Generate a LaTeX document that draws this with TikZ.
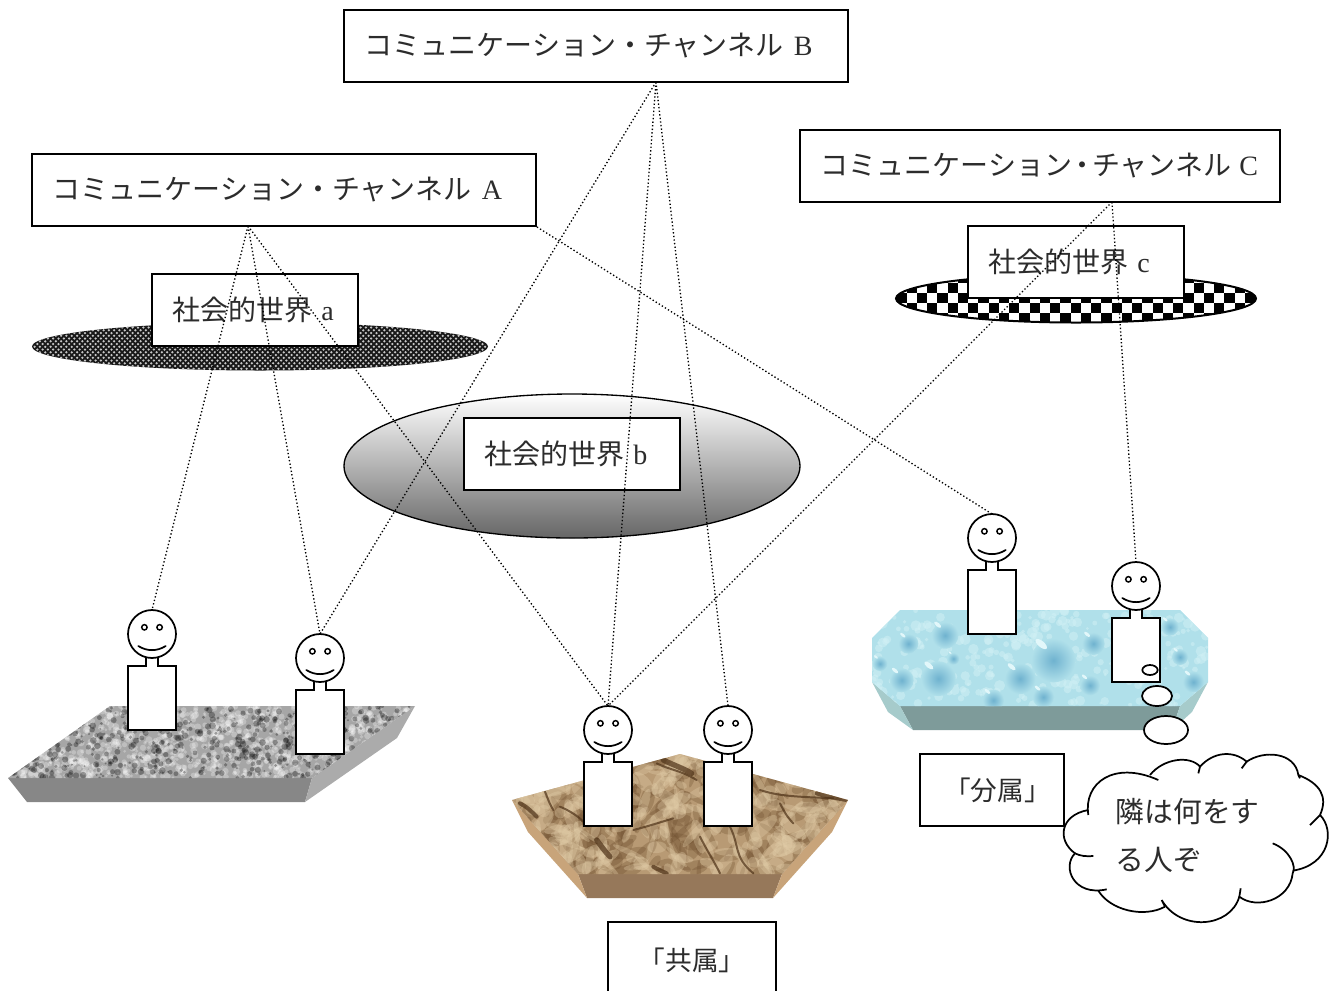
\documentclass[tikz,border=0pt]{standalone}
\usepackage{fontspec}
\usetikzlibrary{shapes.geometric}
\setmainfont{Liberation Serif}
\newfontfamily\cjk{Noto Sans CJK JP}
\pgfmathsetseed{42}
\definecolor{inkgray}{HTML}{2C2C2C}
\definecolor{brownfront}{HTML}{96785A}
\definecolor{brownside}{HTML}{C8A47A}
\definecolor{brownbase}{HTML}{B89A74}
\definecolor{browndark}{HTML}{6E4E2E}
\definecolor{brownlight}{HTML}{E2CDA8}
\definecolor{browncrack}{HTML}{4E3218}
\definecolor{bluefront}{HTML}{7E9B9A}
\definecolor{blueside}{HTML}{A6CBCB}
\definecolor{bluebase}{HTML}{B0E0EA}
\definecolor{bluedark}{HTML}{8FCADD}
\definecolor{bluelight}{HTML}{D2F1F5}
\definecolor{bluedrop}{HTML}{6FB2CF}
\definecolor{blueglint}{HTML}{E2F7FA}
\tikzset{
  lbl/.style={draw=black,line width=1.45pt,fill=white,align=left,inner xsep=16.5pt,inner ysep=0pt,minimum height=54pt,font=\fontsize{21}{25}\selectfont,text=inkgray},
  link/.style={draw=black,line width=1pt,dash pattern=on 1pt off 1.7pt},
  fig/.style={draw=black,line width=1.3pt,fill=white},
  bub/.style={draw=black,line width=1.3pt,fill=white,ellipse}
}
\newcommand{\up}[1]{\raisebox{1.5pt}{#1}}
\newcommand{\chan}{\hspace*{-1pt}\cjk コミュニケーション・チャンネル\rmfamily\hspace{8pt}}
\newcommand{\person}[3]{%
  \begin{scope}[shift={(#2,#3)}]
    \draw[fig] (-24,32) -- (-6,32) -- (-6,22) -- (6,22) -- (6,32) -- (24,32) -- (24,96) -- (-24,96) -- cycle;
    \node[fig,circle,minimum size=36pt,inner sep=0pt,outer sep=0pt] (h#1) at (0,0) {};
    \draw[line width=1.1pt] (-7.6,-6.7) circle (2.7) (7.6,-6.7) circle (2.7);
    \draw[line width=1.3pt,line cap=round] (-13.7,12) .. controls (-5,17.5) and (5,17.5) .. (13.7,12);
  \end{scope}}
\begin{document}
\begin{tikzpicture}[x=0.75pt,y=-0.75pt]
\useasboundingbox (0,0) rectangle (1332,990);

% ---------- grey platform
\fill[black!47] (8,778) -- (312,778) -- (305,802) -- (27,802) -- cycle;
\fill[black!33] (415,706) -- (397,738) -- (305,802) -- (312,778) -- cycle;
\begin{scope}
  \clip (8,778) -- (110,706) -- (415,706) -- (312,778) -- cycle;
  \fill[black!35] (0,700) rectangle (420,780);
  \foreach \i in {1,...,1300}{
    \pgfmathsetmacro\px{8+rnd*407}\pgfmathsetmacro\py{706+rnd*72}
    \pgfmathsetmacro\pr{1.4+rnd*2.2}
    \fill[white,opacity=.28] (\px,\py) circle (\pr);}
  \foreach \i in {1,...,650}{
    \pgfmathsetmacro\px{8+rnd*407}\pgfmathsetmacro\py{706+rnd*72}
    \pgfmathsetmacro\pr{1+rnd*2.4}
    \fill[black,opacity=.3] (\px,\py) circle (\pr);}
\end{scope}

% ---------- brown platform
\fill[brownfront] (578,874) -- (782,874) -- (773,898) -- (587,898) -- cycle;
\fill[brownside] (512,800) -- (528,832) -- (587,898) -- (578,874) -- cycle;
\fill[brownside] (848,800) -- (832,832) -- (773,898) -- (782,874) -- cycle;
\begin{scope}
  \clip (512,800) -- (680,754) -- (848,800) -- (782,874) -- (578,874) -- cycle;
  \fill[brownbase] (505,750) rectangle (855,880);
  \foreach \i in {1,...,260}{
    \pgfmathsetmacro\px{512+rnd*336}\pgfmathsetmacro\py{754+rnd*120}
    \pgfmathsetmacro\pa{rnd*180}\pgfmathsetmacro\pr{6+rnd*14}\pgfmathsetmacro\ps{2+rnd*5}
    \fill[browndark,opacity=.3,rotate around={\pa:(\px,\py)}] (\px,\py) ellipse (\pr*1 and \ps*1);}
  \foreach \i in {1,...,300}{
    \pgfmathsetmacro\px{512+rnd*336}\pgfmathsetmacro\py{754+rnd*120}
    \pgfmathsetmacro\pa{rnd*180}\pgfmathsetmacro\pr{5+rnd*14}\pgfmathsetmacro\ps{2+rnd*5}
    \fill[brownlight,opacity=.35,rotate around={\pa:(\px,\py)}] (\px,\py) ellipse (\pr*1 and \ps*1);}
  \begin{scope}[shift={(500,690)},x=0.25pt,y=-0.25pt,browncrack,line width=1.5pt,line cap=round,opacity=.7]
    \draw (135,305) .. controls (145,330) and (150,345) .. (160,360);
    \draw (180,350) .. controls (215,365) and (235,380) .. (250,395);
    \draw (690,410) .. controls (720,470) and (700,500) .. (760,550);
    \draw (600,440) .. controls (620,480) and (640,510) .. (660,550);
    \draw (470,220) .. controls (510,240) and (540,240) .. (590,270);
    \draw (400,420) .. controls (440,410) and (470,400) .. (520,385);
    \draw (780,300) .. controls (840,320) and (900,320) .. (1000,325);
    \draw (840,340) .. controls (850,360) and (860,380) .. (880,400);
    \draw[line width=4pt] (490,210) .. controls (520,225) and (550,235) .. (575,250);
    \draw[line width=4pt] (290,450) .. controls (305,470) and (315,485) .. (330,500);
    \draw[line width=3pt] (950,310) .. controls (980,320) and (1010,325) .. (1040,330);
    \draw[line width=3pt] (460,530) .. controls (475,540) and (490,545) .. (500,550);
    \draw[line width=3pt] (60,340) .. controls (80,350) and (90,360) .. (110,380);
  \end{scope}
\end{scope}

% ---------- blue platform
\fill[bluefront] (900,706) -- (1180,706) -- (1172,730) -- (913,730) -- cycle;
\fill[blueside] (872,682) -- (888,712) -- (913,730) -- (900,706) -- cycle;
\fill[blueside] (1208,682) -- (1192,712) -- (1172,730) -- (1180,706) -- cycle;
\begin{scope}
  \clip (872,638) -- (900,610) -- (1180,610) -- (1208,638) -- (1208,682) -- (1180,706) -- (900,706) -- (872,682) -- cycle;
  \fill[bluebase] (870,608) rectangle (1210,708);
  \foreach \i in {1,...,320}{
    \pgfmathsetmacro\px{872+rnd*336}\pgfmathsetmacro\py{610+rnd*96}
    \pgfmathsetmacro\pr{1.5+rnd*4}
    \fill[bluelight,opacity=.5] (\px,\py) circle (\pr);}
  \begin{scope}[shift={(860,500)},x=0.25pt,y=-0.25pt]
    \foreach \cx/\cy/\cr in {580/475/66,235/530/52,255/400/40,125/535/36,480/530/46,1000/540/32,690/550/30,400/595/32,550/585/32,145/425/30,700/425/34,930/375/26,960/465/24,280/470/18,60/485/22}{
      \shade[inner color=bluedrop,outer color=bluebase] (\cx,\cy+6) circle (\cr);
      \fill[blueglint,rotate around={-40:(\cx-\cr*0.55,\cy-\cr*0.65)}] (\cx-\cr*0.55,\cy-\cr*0.65) ellipse ({\cr*0.32} and {\cr*0.14});}
  \end{scope}
\end{scope}

% ---------- social-world ellipses
\begin{scope}
  \clip (260,346.5) ellipse (228 and 24);
  \fill[black!90] (30,320) rectangle (490,372);
  \foreach \r in {0,...,18}{
    \pgfmathsetmacro\sh{mod(\r,2)*2.65}
    \foreach \c in {0,...,86}{
      \pgfmathsetmacro\px{32+\c*5.3+\sh}\pgfmathsetmacro\py{322+\r*2.75}
      \fill[black!22] (\px,\py) circle (1.25);}}
\end{scope}

\node[draw=black,line width=1pt,ellipse,minimum width=342pt,minimum height=108pt,inner sep=0pt,top color=white,bottom color=black!60] (wb) at (572,466) {};

\begin{scope}
  \clip (1076,298.5) ellipse (180 and 24);
  \fill[white] (890,270) rectangle (1260,325);
  \foreach \r in {0,...,5}{
    \foreach \c in {-2,...,34}{
      \pgfmathsetmacro\odd{abs(mod(\r+\c,2))}
      \ifdim\odd pt>0.5pt
        \pgfmathsetmacro\px{906.5+\c*10.25}\pgfmathsetmacro\py{272.5+\r*10}
        \fill[black] (\px,\py) rectangle ++(10.25,10);
      \fi}}
\end{scope}
\draw[black,line width=1.5pt] (1076,298.5) ellipse (180 and 24);

% ---------- label boxes
\node[lbl,text width=345pt] (chB) at (596,46) {\up{\chan B}};
\node[lbl,text width=345pt] (chA) at (284,190) {\up{\chan A}};
\node[lbl,text width=327pt] (chC) at (1040,166) {\up{\hspace*{-1pt}\cjk コミュニケーション\hspace*{-3pt}・\hspace*{-3pt}チャンネル\rmfamily\hspace{6pt}C}};
\node[lbl,text width=121.5pt] (wlabA) at (255,310) {\up{\hspace*{-1pt}\cjk 社会的世界\rmfamily\hspace{6.5pt}a}};
\node[lbl,text width=129pt] (wlabB) at (572,454) {\up{\hspace*{-1pt}\cjk 社会的世界\rmfamily\hspace{6.5pt}b}};
\node[lbl,text width=129pt] (wlabC) at (1076,262) {\up{\hspace*{-1pt}\cjk 社会的世界\rmfamily\hspace{6.5pt}c}};
\node[lbl,text width=75pt,font=\fontsize{20}{24}\selectfont] (bunzoku) at (992,790) {\hspace*{1.5pt}\cjk 「分属」};
\node[lbl,text width=93pt,font=\fontsize{20}{24}\selectfont,minimum height=57pt] (kyozoku) at (692,960) {\hspace*{6.5pt}\raisebox{-1pt}{\cjk 「共属」}};

% ---------- thought cloud
\begin{scope}[shift={(860,500)},x=0.25pt,y=-0.25pt,line width=1.3pt]
  \fill[white] (685,930) .. controls (670,850) and (760,780) .. (870,825)
    .. controls (910,775) and (990,765) .. (1020,800)
    .. controls (1060,755) and (1120,750) .. (1160,785)
    .. controls (1210,750) and (1305,755) .. (1315,825)
    .. controls (1380,850) and (1405,890) .. (1380,945)
    .. controls (1425,990) and (1410,1095) .. (1298,1112)
    .. controls (1290,1200) and (1190,1230) .. (1138,1190)
    .. controls (1110,1285) and (960,1295) .. (905,1200)
    .. controls (850,1250) and (750,1230) .. (715,1172)
    .. controls (640,1170) and (605,1100) .. (645,1060)
    .. controls (590,1020) and (600,945) .. (685,930) -- cycle;
  \draw[black] (685,945) .. controls (670,850) and (760,780) .. (895,840);
  \draw[black] (870,825) .. controls (910,775) and (990,765) .. (1020,800) -- (1015,820);
  \draw[black] (1020,800) .. controls (1060,755) and (1120,750) .. (1160,785) -- (1145,805);
  \draw[black] (1160,785) .. controls (1210,750) and (1305,755) .. (1315,825) -- (1320,835);
  \draw[black] (1315,825) .. controls (1380,850) and (1405,890) .. (1380,945) -- (1350,975);
  \draw[black] (1380,945) .. controls (1425,990) and (1410,1095) .. (1298,1112);
  \draw[black] (1238,1030) .. controls (1290,1050) and (1310,1100) .. (1298,1120) .. controls (1290,1200) and (1190,1230) .. (1138,1190) -- (1142,1165);
  \draw[black] (1138,1190) .. controls (1110,1285) and (960,1295) .. (905,1200) -- (915,1220);
  \draw[black] (915,1220) .. controls (850,1255) and (750,1230) .. (715,1172);
  \draw[black] (740,1168) .. controls (640,1190) and (605,1100) .. (645,1060) .. controls (660,1068) and (680,1070) .. (700,1068);
  \draw[black] (645,1060) .. controls (590,1020) and (600,945) .. (685,930);
\end{scope}
\node[anchor=west,inner sep=0pt,text width=130pt,align=left,text=inkgray,font=\fontsize{21.6}{36}\selectfont] (thought) at (1115.5,835) {\cjk 隣は何をす\\る人ぞ};

% ---------- people
\person{1}{152}{634}
\person{2}{320}{658}
\person{3}{608}{730}
\person{4}{728}{730}
\person{5}{992}{538}
\person{6}{1136}{586}

% ---------- thought bubbles
\node[bub,minimum width=11.5pt,minimum height=7.5pt,inner sep=0pt] (bubA) at (1150,670) {};
\node[bub,minimum width=22.5pt,minimum height=15pt,inner sep=0pt] (bubB) at (1157,696) {};
\node[bub,minimum width=33pt,minimum height=21pt,inner sep=0pt] (bubC) at (1166,730) {};

% ---------- connectors
\coordinate (outA) at (248,226);
\coordinate (outB) at (656,82);
\coordinate (outC) at (1112,202);
\draw[link] (outA) -- (h1.north);
\draw[link] (outA) -- (h2.north);
\draw[link] (outA) -- (h3.north);
\draw[link] (chA.south east) -- (h5.north);
\draw[link] (outB) -- (h2.north);
\draw[link] (outB) -- (h3.north);
\draw[link] (outB) -- (h4.north);
\draw[link] (outC) -- (h3.north);
\draw[link] (outC) -- (h6.north);
\end{tikzpicture}
\end{document}
